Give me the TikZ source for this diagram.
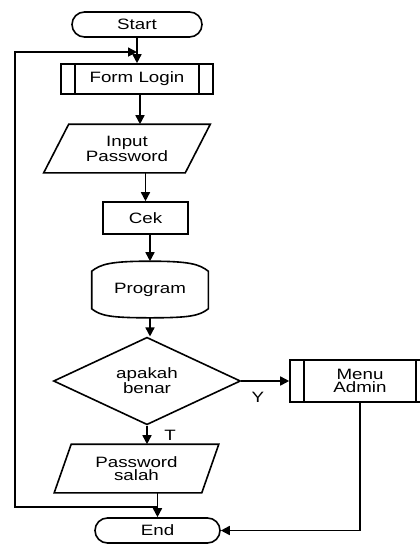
\documentclass[tikz,border=0pt]{standalone}
\usepackage{fontspec}
\setmainfont{Liberation Sans}[FakeStretch=1.25]
\usetikzlibrary{arrows.meta, shapes.geometric, calc}

\tikzset{
  txt/.style={align=center, inner sep=0pt, font=\fontsize{15}{13.5}\selectfont},
  base/.style={txt, draw},
  term/.style={base, rounded corners=12.5pt, minimum height=25pt},
  proc/.style={base, rectangle},
  subproc/.style={proc, append after command={
      ([xshift=15pt]\tikzlastnode.north west) edge ([xshift=15pt]\tikzlastnode.south west)
      ([xshift=-15pt]\tikzlastnode.north east) edge ([xshift=-15pt]\tikzlastnode.south east)}},
  decide/.style={base, diamond, minimum width=187pt, minimum height=78pt}
}

\begin{document}
\begin{tikzpicture}[x=1pt, y=-1pt, line width=1.6pt, >={Triangle[length=9pt,width=9pt]}]

\clip (0,0) rectangle (420,547);

% === Simbol alur ===
\node[term, minimum width=130pt] (start) at (137,24.5) {Start};
\node[subproc, minimum width=152pt, minimum height=30pt] (login) at (137,79) {Form Login};

% Input (jajaran genjang)
\node[txt, minimum width=140pt, minimum height=47pt] (input) at (127,148.5) {Input\\Password};
\draw ($(input.north west)+(12.5,0)$) -- ($(input.north east)+(12.5,0)$)
      -- ($(input.south east)+(-12.5,0)$) -- ($(input.south west)+(-12.5,0)$) -- cycle;

\node[proc, minimum width=85pt, minimum height=32pt] (cek) at (145.5,218) {Cek};

% Program (bentuk disimpan)
\node[txt, minimum width=115pt, minimum height=36pt] (prog) at (150,290) {Program};
\draw (prog.north west) .. controls ($(prog.north west)+(9,-7)$) and ($(prog.north)+(-40,-10)$) .. ($(prog.north)+(0,-10)$)
      .. controls ($(prog.north)+(40,-10)$) and ($(prog.north east)+(-9,-7)$) .. (prog.north east)
      -- (prog.south east)
      .. controls ($(prog.south east)+(-9,7)$) and ($(prog.south)+(40,9)$) .. ($(prog.south)+(0,9)$)
      .. controls ($(prog.south)+(-40,9)$) and ($(prog.south west)+(9,7)$) .. (prog.south west)
      -- cycle;

\node[decide] (dec) at (147,381) {apakah\\benar};
\node[subproc, minimum width=140pt, minimum height=42pt] (menu) at (360,381) {Menu\\Admin};

% Output (jajaran genjang)
\node[txt, minimum width=146pt, minimum height=47pt] (salah) at (136.5,468.5) {Password\\salah};
\draw ($(salah.north west)+(8.5,0)$) -- ($(salah.north east)+(8.5,0)$)
      -- ($(salah.south east)+(-8.5,0)$) -- ($(salah.south west)+(-8.5,0)$) -- cycle;

\node[term, minimum width=125pt] (end) at (157.5,530.5) {End};

% Label cabang
\node[txt] (lY) at (258,397) {Y};
\node[txt] (lT) at (170,435) {T};

% === Panah ===
\draw[->] (start.south -| login.north) -- (login.north);
\draw[->] ([xshift=3pt]login.south) -- ([xshift=3pt]login.south |- input.north);
\draw[->] (input.south -| cek.north) -- (cek.north);
\draw[->] (cek.south -| prog.north) -- ($(prog.north)+(0,-10)$);
\draw[->] ($(prog.south)+(0,9)$) -- (prog.south |- dec.north);
\draw[->] (dec.south) -- (dec.south |- salah.north);
\draw[->] (dec.east) -- (menu.west);
\draw[->] (salah.south -| end.north) -- (end.north);
\draw[->] (menu.south) |- (end.east);

% Kembali ke Form Login
\coordinate (j1) at ($(salah.south -| end.north)!0.58!(end.north)$);
\coordinate (j2) at ($(start.south)!0.56!(start.south |- login.north)$);
\coordinate (lp) at (15,507);
\draw[->] (j1) -- (lp) |- (j2);

\end{tikzpicture}
\end{document}
